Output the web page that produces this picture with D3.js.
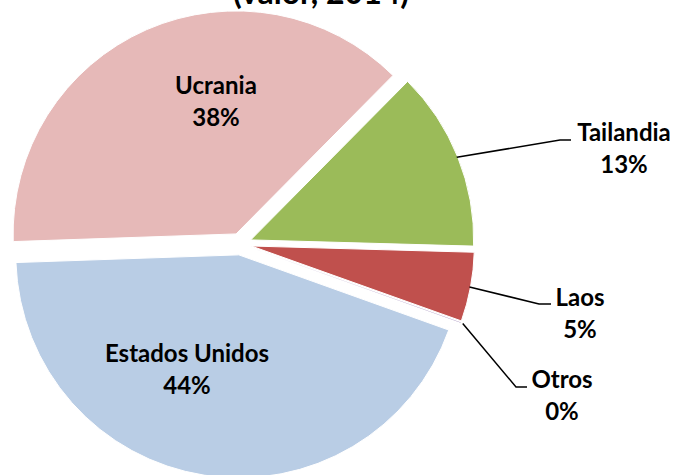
<!DOCTYPE html>
<html>
<head>
<meta charset="utf-8">
<script src="https://cdn.jsdelivr.net/npm/d3@7"></script>
<style>
  body { margin: 0; background: #fff; }
  svg text { font-family: Lato, "Open Sans", sans-serif; font-weight: bold; fill: #000; }
</style>
</head>
<body>
<div id="chart"></div>
<script>
// data, clockwise from the first slice
const countries = ["Estados Unidos", "Ucrania", "Tailandia", "Laos", "Otros"];
const shares = [43.9, 37.9, 13.0, 5.0, 0.02];
const shareLabels = ["44%", "38%", "13%", "5%", "0%"];
const sliceColors = ["#B9CDE5", "#E6B9B8", "#9BBB59", "#C0504D", "#8064A2"];
const titleText = "(valor, 2014)";

drawPieChart();

function drawPieChart () {
  const width = 677;
  const height = 475;
  const radius = 223;
  const cx = 240.5;
  const cy = 244;
  const explode = 11;

  const svg = d3.select("#chart")
    .append("svg")
      .attr("width", width)
      .attr("height", height);

  // title sits mostly above the frame, as in the original
  svg.append("text")
    .attr("x", 321)
    .attr("y", 4)
    .attr("text-anchor", "middle")
    .style("font-size", "32px")
    .text(titleText);

  const data = countries.map((c, i) => ({ label: c, value: shares[i], pct: shareLabels[i], color: sliceColors[i] }));

  const startA = 109.7 * Math.PI / 180;
  const pie = d3.pie()
    .sort(null)
    .value(d => d.value)
    .startAngle(startA)
    .endAngle(startA + 2 * Math.PI);

  const arc = d3.arc()
    .innerRadius(0)
    .outerRadius(radius);

  const arcs = pie(data);

  const g = svg.append("g")
    .attr("transform", `translate(${cx}, ${cy})`);

  // slice offset along its bisector
  const offset = d => {
    const a = (d.startAngle + d.endAngle) / 2;
    return [Math.sin(a) * explode, -Math.cos(a) * explode];
  };

  g.selectAll("path")
    .data(arcs)
    .enter().append("path")
      .attr("d", arc)
      .attr("transform", d => `translate(${offset(d)})`)
      .attr("fill", d => d.data.color)
      .attr("stroke", d => d.data.value < 1 ? "none" : "#fff")
      .attr("stroke-width", 1);

  // label placement (inside for big slices, outside with leader for small)
  const labelPos = {
    "Estados Unidos": { x: 187, y: 362 },
    "Ucrania": { x: 216, y: 94 },
    "Tailandia": { x: 624, y: 141, line: [571, 140, 560, 140] },
    "Laos": { x: 580, y: 306, line: [551, 304, 539, 304] },
    "Otros": { x: 562, y: 388, line: [527, 387, 516, 387] }
  };

  const lines = svg.append("g");
  arcs.forEach(d => {
    const p = labelPos[d.data.label];
    if (p.line) {
      const off = offset(d);
      const a = (d.startAngle + d.endAngle) / 2;
      const r = d.data.label === "Otros" ? radius + 2 : radius - 1;
      const ax = cx + off[0] + Math.sin(a) * r;
      const ay = cy + off[1] - Math.cos(a) * r;
      lines.append("polyline")
        .attr("points", `${ax},${ay} ${p.line[2]},${p.line[3]} ${p.line[0]},${p.line[1]}`)
        .attr("fill", "none")
        .attr("stroke", "#000")
        .attr("stroke-width", 1.5);
    }
    const t = svg.append("text")
      .attr("text-anchor", "middle")
      .style("font-size", "24px");
    t.append("tspan").attr("x", p.x).attr("y", p.y).text(d.data.label);
    t.append("tspan").attr("x", p.x).attr("y", p.y + 32).text(d.data.pct);
  });
}
</script>
</body>
</html>
